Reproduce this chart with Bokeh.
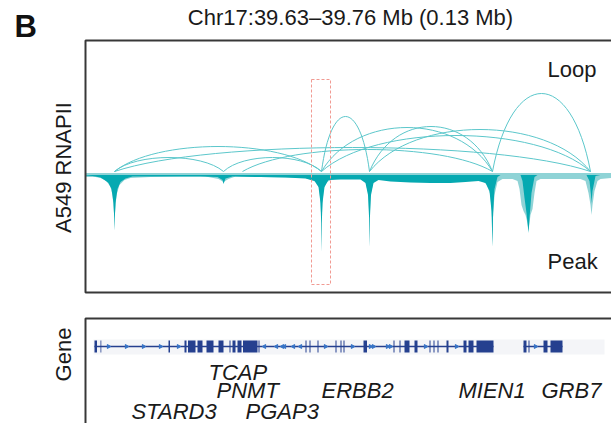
import numpy as np
from bokeh.plotting import figure
from bokeh.models import Range1d
from bokeh.core.properties import value
from bokeh.embed import file_html
from bokeh.resources import INLINE

# ---------------- data (genomic positions in kb from chr17:39,630,000) ----------------
title_text = "Chr17:39.63\u201339.76 Mb (0.13 Mb)"

# loops (anchor start kb, anchor end kb, arc height)
loop_start = [7.25, 7.25, 7.25, 34.5, 39.25, 59.0, 59.0, 59.0, 71.0, 71.0, 101.75]
loop_end = [34.5, 59.0, 126.25, 59.0, 101.75, 71.0, 101.75, 126.25, 101.75, 126.25, 126.25]
loop_height = [14, 25, 24, 14, 22, 55, 44, 36, 45, 42, 78]

# coverage, light layer (position kb, depth)
light_pos = [0, 2.5, 3.75, 5.25, 6.25, 6.75, 7.125, 7.25, 7.375, 7.75, 8.5, 9.75, 11.25, 16.25,
             23.75, 30, 33.25, 34.5, 35.75, 37.5, 43.75, 51.25, 55, 56.5, 57.75, 58.5, 58.875,
             59, 59.125, 59.5, 60.25, 61.5, 63.75, 68.75, 70, 70.75, 70.925, 71, 71.075, 71.25,
             72, 73.75, 96.25, 98.75, 100.25, 101.25, 101.625, 101.75, 101.875, 102.25, 103,
             104.25, 106.75, 108, 108.5, 109, 109.5, 110, 110.5, 110.75, 111.25, 111.75, 112.25,
             112.75, 113.75, 118.75, 123.75, 125, 125.75, 126.25, 126.5, 126.75, 127.25, 128,
             128.75, 131.5]
light_depth = [4, 4, 5, 8, 14, 22, 40, 57, 40, 22, 12, 7, 5, 4,
               3.5, 3.5, 6, 9, 6, 3.5, 4, 4.5, 5, 7, 9, 16, 40,
               79, 40, 16, 9, 7, 5, 5, 9, 22, 45, 74, 45, 22,
               9, 5, 5.5, 7, 11, 22, 45, 74, 45, 22, 9,
               6, 6, 8, 16, 32, 38, 42, 50, 58, 42, 36, 20,
               8, 6, 6, 6, 8, 20, 32, 42, 32, 18, 8,
               6, 5]

# coverage, dark layer (position kb, depth)
dark_pos = [0, 1.75, 3.75, 4.75, 5.75, 6.5, 7.0, 7.175, 7.25, 7.325, 7.5, 8.0, 8.75, 10, 11.75,
            18.75, 28.75, 33, 34.25, 34.5, 35, 36.75, 43.75, 50, 55, 57.25, 58.25, 58.75, 58.925,
            59, 59.075, 59.25, 59.75, 60.75, 63.75, 68.75, 70, 70.625, 70.9, 71, 71.1, 71.375,
            72, 73.25, 76.25, 81.25, 86.25, 91.25, 95, 98.25, 100, 101, 101.5, 101.75, 101.9,
            102.25, 103, 103.75, 108.75, 109.25, 109.75, 110.25, 110.625, 110.75, 111, 111.5,
            112.25, 113, 125.25, 126, 126.375, 126.5, 126.75, 127.5, 128.75, 131.5]
dark_depth = [2.5, 3, 4.5, 7, 10, 16, 30, 45, 58, 45, 30, 16, 9, 5.5, 3.5,
              3.5, 3.5, 4, 7, 11, 5.5, 3.5, 4, 4.5, 5.5, 8, 14, 30, 50,
              79, 50, 30, 14, 7, 6.5, 6.5, 10, 22, 45, 74, 45, 22,
              10, 7, 8.5, 9.5, 10, 10, 9, 8, 10, 18, 38, 74, 40,
              16, 4, 2, 2, 8, 25, 40, 55, 60, 45, 20,
              4, 2, 2, 8, 22, 30, 18, 3, 2, 2]

# gene track: exons (kb)
exon_start = [2.25, 3.75, 20.75, 24.75, 25.625, 28, 30.25, 33.25, 36, 36.75, 38, 39.375, 43.25,
              55, 56, 58, 62.5, 63.75, 64.5, 69.5, 77, 78.5, 79.75, 82.25, 86, 87, 88, 90.25,
              94.5, 95.75, 97.75, 109.5, 110.75, 114.5, 116.25]
exon_end = [2.875, 3.95, 21.125, 25.25, 27.5, 29.25, 32, 34.5, 36.25, 37.5, 39, 43, 43.5,
            55.25, 56.25, 58.25, 62.75, 64, 64.75, 70.375, 77.25, 78.75, 81, 83, 86.25, 87.25,
            88.25, 90.75, 95.25, 97, 102, 110.25, 111, 115.5, 119.25]
intron_start = [2.25, 109.5]
intron_end = [102.0, 119.25]
arrow_right = [5.75, 10.25, 14.5, 18.75, 23.25, 60, 66.75, 71.25, 72, 75.5, 76.25, 85, 92.75, 112.5]
arrow_left = [44.75, 47.75, 49.25, 49.75, 52, 53.75]

gene_names = ["TCAP", "PNMT", "ERBB2", "MIEN1", "GRB7", "STARD3", "PGAP3"]
gene_label_x = [30.75, 32.75, 59.0, 93.25, 114.0, 11.5, 40.0]
gene_label_row = [0, 1, 1, 1, 1, 2, 2]

# highlighted region (kb)
hl_start, hl_end = 56.5, 61.25

# ---------------- layout constants (pixels, y measured upward) ----------------
W, H = 611, 423
FONT = value("Liberation Sans")
row_y = [51, 33, 12]

p = figure(width=W, height=H, x_range=Range1d(-21.25, 131.5), y_range=Range1d(0, 423),
           x_axis_type=None, y_axis_type=None, toolbar_location=None, output_backend="svg",
           min_border=0, outline_line_color=None, background_fill_color="white",
           border_fill_color="white")
p.grid.visible = False

p.extra_y_ranges = {"sig": Range1d(250.5, -172.5), "loop": Range1d(-252, 171)}

# coverage
p.varea(x=light_pos, y1=0, y2=light_depth, fill_color="#8fd3d6", y_range_name="sig")
p.varea(x=dark_pos, y1=2, y2=dark_depth, fill_color="#05a9b1", y_range_name="sig")

# loops as bezier arcs
ls = np.array(loop_start, float)
le = np.array(loop_end, float)
lh = np.array(loop_height, float)
span = le - ls
p.bezier(x0=ls, y0=0, x1=le, y1=0, cx0=ls + 0.2 * span, cy0=lh * 4 / 3,
         cx1=le - 0.2 * span, cy1=lh * 4 / 3, line_color="#5cc7cb", line_width=1.0,
         y_range_name="loop")

# highlight box
p.quad(left=hl_start, right=hl_end, top=344, bottom=139, fill_color=None,
       line_color="#f19a92", line_width=1, line_dash="3 2")

# panel frames
p.quad(left=0, right=140, top=383, bottom=131, fill_color=None, line_color="#383838", line_width=2)
p.quad(left=0, right=140, top=105, bottom=-20, fill_color=None, line_color="#383838", line_width=2)

# gene track
p.quad(left=2.0, right=129.75, top=84, bottom=69, fill_color="#f4f5f8", line_color=None)
p.segment(x0=intron_start, y0=77, x1=intron_end, y1=77, line_color="#25408f", line_width=1.5)
p.quad(left=exon_start, right=exon_end, top=83, bottom=71, fill_color="#25408f", line_color=None)
p.scatter(x=arrow_right, y=77, marker="triangle", size=4, angle=-np.pi / 2,
          fill_color="#3673c6", line_color="#3673c6")
p.scatter(x=arrow_left, y=77, marker="triangle", size=4, angle=np.pi / 2,
          fill_color="#3673c6", line_color="#3673c6")

p.text(x=gene_label_x, y=[row_y[r] for r in gene_label_row], text=gene_names,
       text_font=FONT, text_font_size=value("22px"), text_font_style="italic",
       text_color="#1a1a1a", text_align="left", text_baseline="middle")

# texts
p.text(x=[66.25], y=[406], text=[title_text], text_font=FONT, text_font_size=value("22px"),
       text_color="#1a1a1a", text_align="center", text_baseline="middle")
p.text(x=[-17.75], y=[397], text=["B"], text_font=FONT, text_font_size=value("31px"),
       text_font_style="bold", text_color="#111111", text_align="left", text_baseline="middle")
p.text(x=[-5.5], y=[256], text=["A549 RNAPII"], text_font=FONT, text_font_size=value("22px"),
       angle=np.pi / 2, text_color="#1a1a1a", text_align="center", text_baseline="middle")
p.text(x=[-5.5], y=[69], text=["Gene"], text_font=FONT, text_font_size=value("22px"),
       angle=np.pi / 2, text_color="#1a1a1a", text_align="center", text_baseline="middle")
p.text(x=[115.5], y=[354], text=["Loop"], text_font=FONT, text_font_size=value("22px"),
       text_color="#1a1a1a", text_align="left", text_baseline="middle")
p.text(x=[115.5], y=[162], text=["Peak"], text_font=FONT, text_font_size=value("22px"),
       text_color="#1a1a1a", text_align="left", text_baseline="middle")

open("out.html", "w").write(file_html(p, INLINE))
